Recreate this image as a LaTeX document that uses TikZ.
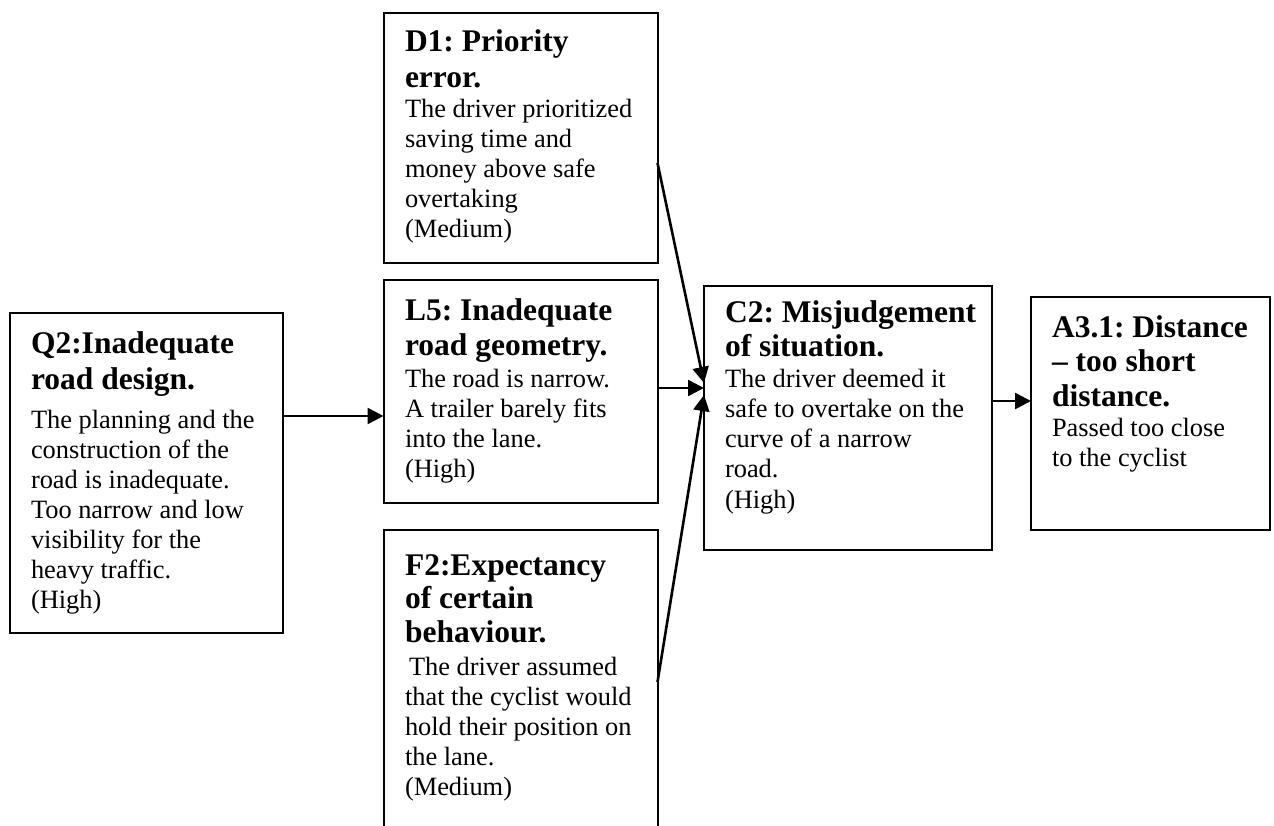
\documentclass[tikz,border=0pt]{standalone}
\usepackage{fontspec}
\setmainfont{Liberation Serif}
\usetikzlibrary{arrows.meta}

% bold heading line inside a factor box
\newcommand{\hdline}[1]{{\bfseries\fontsize{31.5}{30}\selectfont #1}}
% natural word spacing, and the height of the first line so that the
% text can be placed by its baseline
\newcommand{\firstline}{\spaceskip=0pt\xspaceskip=0pt\frenchspacing\rule{0pt}{26pt}}

\tikzset{
  x=1pt, y=-1pt,
  box/.style={draw, line width=2pt, rectangle, anchor=north west,
              inner sep=0pt, outer sep=0pt},
  txt/.style={anchor=north west, inner sep=0pt, outer sep=0pt, align=left,
              text width=#1, font=\fontsize{26.4}{30}\selectfont},
  arr/.style={line width=2.6pt, -{Triangle[length=16pt,width=16pt]}},
}

\begin{document}
\begin{tikzpicture}
\useasboundingbox (0,0) rectangle (1274,826);
\clip (0,0) rectangle (1274,826);

% factor boxes
\node[box, minimum width=273pt, minimum height=320pt] (q2)  at (10,313)    {};
\node[box, minimum width=274pt, minimum height=250pt] (d1)  at (383.5,13)  {};
\node[box, minimum width=274pt, minimum height=223pt] (l5)  at (383.5,280) {};
\node[box, minimum width=274pt, minimum height=320pt] (f2)  at (383.5,530) {};
\node[box, minimum width=288pt, minimum height=264pt] (c2)  at (704,286)   {};
\node[box, minimum width=239pt, minimum height=233pt] (a31) at (1031,297)  {};

% box texts
\node[txt=250pt] (q2t) at (31,327) {\firstline\hdline{Q2:Inadequate}\\[6pt]
\hdline{road design.}\\[9pt]
The planning and the\\
construction of the\\
road is inadequate.\\
Too narrow and low\\
visibility for the\\
heavy traffic.\\
(High)};

\node[txt=250pt] (d1t) at (405,26) {\firstline\hdline{D1: Priority}\\[6pt]
\hdline{error.}\\
The driver prioritized\\
saving time and\\
money above safe\\
overtaking\\
(Medium)};

\node[txt=250pt] (l5t) at (405,294) {\firstline\hdline{L5: Inadequate}\\[5pt]
\hdline{road geometry.}\\[2pt]
The road is narrow.\\
A trailer barely fits\\
into the lane.\\
(High)};

\node[txt=250pt] (f2t) at (405,549) {\firstline\hdline{F2:Expectancy}\\[3pt]
\hdline{of certain}\\[4pt]
\hdline{behaviour.}\\[3pt]
\hspace*{4pt}The driver assumed\\
that the cyclist would\\
hold their position on\\
the lane.\\
(Medium)};

\node[txt=264pt] (c2t) at (725,297) {\firstline\hdline{C2: Misjudgement}\\[3pt]
\hdline{of situation.}\\[2pt]
The driver deemed it\\
safe to overtake on the\\
curve of a narrow\\
road.\\
(High)};

\node[txt=215pt] (a31t) at (1052,311) {\firstline\hdline{A3.1: Distance}\\[5pt]
\hdline{-- too short}\\[5pt]
\hdline{distance.}\\
Passed too close\\
to the cyclist};

% heights at which the connectors leave and enter the boxes
\coordinate (yq2)  at (0,416);
\coordinate (yd1)  at (0,163);
\coordinate (yc2a) at (0,383);
\coordinate (yl5)  at (0,388);
\coordinate (yf2)  at (0,682);
\coordinate (yc2c) at (0,395);
\coordinate (yc2o) at (0,401);

% connectors
\draw[arr] (q2.east |- yq2) -- (l5.west |- yq2);
\draw[arr] (d1.east |- yd1) -- (c2.west |- yc2a);
\draw[arr] (l5.east |- yl5) -- (c2.west |- yl5);
\draw[arr] (f2.east |- yf2) -- (c2.west |- yc2c);
\draw[arr] (c2.east |- yc2o) -- (a31.west |- yc2o);
\end{tikzpicture}
\end{document}
